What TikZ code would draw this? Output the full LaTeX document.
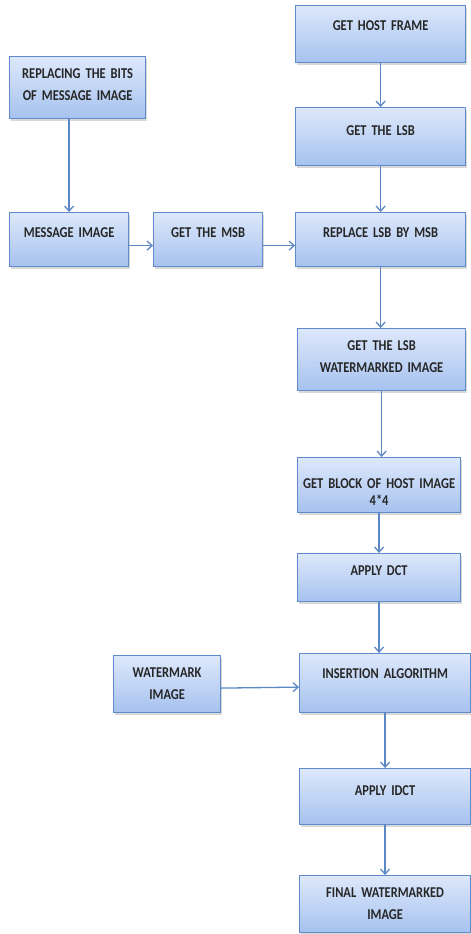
\documentclass[tikz,border=0pt]{standalone}
\usepackage{fontspec}
\setmainfont{Carlito}[FakeStretch=0.83]
\usetikzlibrary{arrows.meta,shadows}

\definecolor{boxtop}{HTML}{DDE8FB}
\definecolor{boxbot}{HTML}{A6C2EF}
\definecolor{boxline}{HTML}{5F8BCB}
\definecolor{flowline}{HTML}{5B87C5}

\tikzset{
  stage/.style={draw=boxline, line width=1.2pt, top color=boxtop, bottom color=boxbot,
    drop shadow={shadow xshift=1.5pt, shadow yshift=-2pt, opacity=0.3},
    anchor=north west, inner sep=0pt, align=center,
    font=\fontsize{15}{22}\selectfont\bfseries, text=black!85},
  flow/.style={draw=flowline, line width=1.3pt, -{Straight Barb[length=5pt,width=9pt]}}
}

\begin{document}
\begin{tikzpicture}[x=1pt, y=-1pt]
        \useasboundingbox (0,0) rectangle (471,934);

        % Message side
        \node[stage, text width=136, text height=22, text depth=40] (bits) at (9,56) {REPLACING THE BITS\\OF MESSAGE IMAGE};
        \node[stage, text width=119, text height=25, text depth=29] (msg) at (9,212) {MESSAGE IMAGE};
        \node[stage, text width=109, text height=25, text depth=29] (msb) at (153,212) {GET THE MSB};

        % Host side (main column)
        \node[stage, text width=170, text height=25, text depth=32] (host) at (295,5) {GET HOST FRAME};
        \node[stage, text width=170, text height=28, text depth=30] (lsb) at (295,107) {GET THE LSB};
        \node[stage, text width=170, text height=25, text depth=29] (repl) at (295,212) {REPLACE LSB BY MSB};
        \node[stage, text width=168, text height=22, text depth=40] (lsbwm) at (297,328) {GET THE LSB\\WATERMARKED IMAGE};
        \node[stage, text width=163, text height=31, text depth=24] (block) at (297,457) {GET BLOCK OF HOST IMAGE\\[-5pt]4*4};
        \node[stage, text width=163, text height=22, text depth=26] (dct) at (297,553) {APPLY DCT};

        % Watermark insertion
        \node[stage, text width=107, text height=22, text depth=35] (wm) at (113,655) {WATERMARK\\IMAGE};
        \node[stage, text width=171, text height=25, text depth=34] (ins) at (299,653) {INSERTION ALGORITHM};
        \node[stage, text width=171, text height=27, text depth=29] (idct) at (299,768) {APPLY IDCT};
        \node[stage, text width=171, text height=22, text depth=35] (final) at (299,875) {FINAL WATERMARKED\\IMAGE};

        % Arrows
        \draw[flow] (msg.north |- bits.south) -- (msg.north);
        \draw[flow] ([yshift=-6pt]msg.east) -- ([yshift=-6pt]msb.west);
        \draw[flow] ([yshift=-6pt]msb.east) -- ([yshift=-6pt]repl.west);
        \draw[flow] (host) -- (lsb);
        \draw[flow] (lsb) -- (repl);
        \draw[flow] (repl.south) -- (repl.south |- lsbwm.north);
        \draw[flow] (lsbwm.south) -- (lsbwm.south |- block.north);
        \draw[flow] (block) -- (dct);
        \draw[flow] (dct.south) -- (dct.south |- ins.north);
        \draw[flow] ([yshift=-4pt]wm.east) -- ([yshift=-4pt]ins.west);
        \draw[flow] (ins) -- (idct);
        \draw[flow] (idct) -- (final);
\end{tikzpicture}
\end{document}
